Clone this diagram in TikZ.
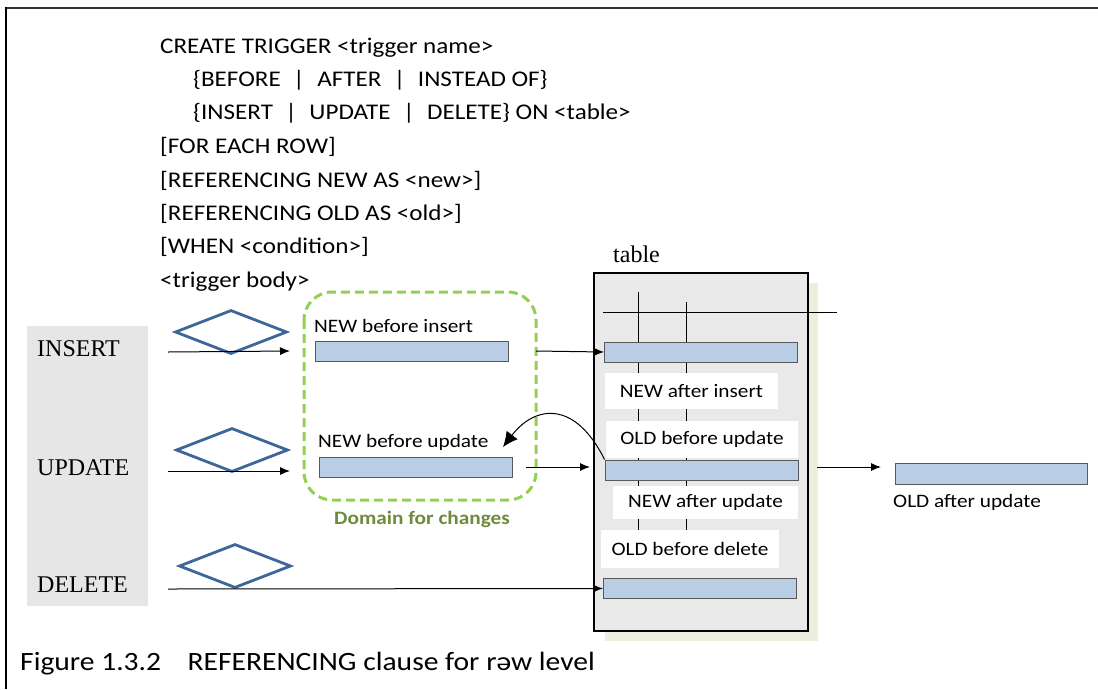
\documentclass[tikz,border=0pt]{standalone}
\usepackage{fontspec}
\setmainfont[FakeStretch=1.12]{Carlito}
\newfontfamily\timesf{Liberation Serif}
\usetikzlibrary{arrows.meta,shapes.geometric}
\newcommand\barsep{\hspace{12.5pt}|\hspace{12.5pt}}
\definecolor{barfill}{HTML}{B9CDE5}
\definecolor{diablue}{HTML}{3F6699}
\definecolor{dgreen}{HTML}{92D050}
\definecolor{dtext}{HTML}{6E8B3D}
\definecolor{panelgray}{HTML}{E6E6E6}
\definecolor{tablegray}{HTML}{E9E9E9}
\definecolor{shadowc}{HTML}{EEEEDF}
\tikzset{
  codeline/.style={anchor=base west,inner sep=0pt,font=\fontsize{22.4}{26}\selectfont},
  optlabel/.style={anchor=base west,inner sep=0pt,font=\timesf\fontsize{24}{28}\selectfont},
  sanslabel/.style={anchor=base west,inner sep=0pt,font=\fontsize{19}{23}\selectfont},
  bar/.style={draw=black!65,fill=barfill,line width=0.9pt,minimum width=193pt,minimum height=20pt,inner sep=0pt},
  diam/.style={diamond,draw=diablue,line width=2.8pt,aspect=2.5,minimum width=112pt,minimum height=44pt,inner sep=0pt},
  whitebox/.style={fill=white,inner sep=0pt,font=\fontsize{19}{23}\selectfont},
  arr/.style={-{Latex[length=10pt,width=8pt]},line width=1pt},
}
\begin{document}
\begin{tikzpicture}[x=1pt,y=-1pt]
\useasboundingbox (0,0) rectangle (1098,689);
\fill[white] (0,0) rectangle (1098,689);
% frame
\draw[line width=2.5pt,black!80] (5,8) -- (1098,8);
\draw[line width=2pt] (6,7) -- (6,689);
% code
\node[codeline] (c1) at (160,53) {CREATE TRIGGER <trigger name>};
\node[codeline] (c2) at (193,86) {\{BEFORE\barsep AFTER\barsep INSTEAD OF\}};
\node[codeline] (c3) at (193,119) {\{INSERT\barsep UPDATE\barsep DELETE\} ON <table>};
\node[codeline] (c4) at (160,153) {[FOR EACH ROW]};
\node[codeline] (c5) at (160,187) {[REFERENCING NEW AS <new>]};
\node[codeline] (c6) at (160,220) {[REFERENCING OLD AS <old>]};
\node[codeline] (c7) at (160,253) {[WHEN <condition>]};
\node[codeline] (c8) at (160,287) {<trigger body>};
% left panel
\fill[panelgray] (27,326) rectangle (148,606);
\node[optlabel] (ins) at (37,356) {INSERT};
\node[optlabel] (upd) at (37,475) {UPDATE};
\node[optlabel] (del) at (37,592) {DELETE};
% diamonds
\node[diam] (d1) at (231,332) {};
\node[diam] (d2) at (232,450) {};
\node[diam] (d3) at (235,566) {};
% domain box
\draw[dgreen,line width=3pt,dash pattern=on 9pt off 5pt,rounded corners=28pt] (304,292) rectangle (536,500);
\node[anchor=base,inner sep=0pt,font=\bfseries\fontsize{19}{22}\selectfont,text=dtext] (dom) at (422,524) {Domain for changes};
% NEW before bars
\node[sanslabel] (lnbi) at (314,332) {NEW before insert};
\node[bar] (bi) at (411.5,351) {};
\node[sanslabel] (lnbu) at (318,447) {NEW before update};
\node[bar] (bu) at (415.5,467) {};
% table
\fill[shadowc] (605,283) rectangle (818,641);
\draw[fill=tablegray,line width=1.6pt] (594,273) rectangle (808,631);
\node[anchor=base west,inner sep=0pt,font=\timesf\fontsize{24}{28}\selectfont] (tlab) at (613,262) {table};
\coordinate (hl) at (603,312);
\coordinate (hr) at (837,312);
\draw[line width=1pt] (hl) -- (hr);
\coordinate (v1t) at (638,292);
\coordinate (v1b) at (638,530);
\coordinate (v2t) at (686,302);
\coordinate (v2b) at (686,530);
\draw[line width=1pt] (v1t) -- (v1b);
\draw[line width=1pt] (v2t) -- (v2b);
\node[bar] (t1) at (701,352) {};
\node[whitebox,minimum width=173pt,minimum height=36pt] (wa) at (691.5,391) {NEW after insert};
\node[whitebox,minimum width=192pt,minimum height=37pt] (wb) at (702,439.5) {OLD before update};
\node[bar] (t2) at (701.5,470) {};
\node[whitebox,minimum width=185pt,minimum height=33pt] (wc) at (705.5,502.5) {NEW after update};
\node[whitebox,minimum width=178pt,minimum height=38pt] (wd) at (690,549) {OLD before delete};
\node[bar] (t3) at (700,588.5) {};
% old after update
\node[bar,minimum width=192pt,minimum height=21pt] (oa) at (991,473.5) {};
\node[sanslabel] (loa) at (893,507) {OLD after update};
% arrows
\coordinate (s1) at (168,352);
\coordinate (e1) at (290,351);
\draw[arr] (s1) -- (e1);
\coordinate (s2) at (168,471);
\coordinate (e2) at (290,471);
\draw[arr] (s2) -- (e2);
\coordinate (s3) at (168,589);
\draw[arr] (s3) -- (t3.west);
\coordinate (s4) at (536,351);
\draw[arr] (s4) -- (t1.west);
\coordinate (s5) at (526,467);
\coordinate (e5) at (590,467);
\draw[arr] (s5) -- (e5);
\coordinate (s6) at (817,467);
\coordinate (e6) at (881,467);
\draw[arr] (s6) -- (e6);
% curved arrow
\coordinate (ct) at (503,447);
\draw[line width=1pt,-{Latex[length=15pt,width=14pt]}] (t2.north west) .. controls (575,400) and (535,405) .. (ct);
% caption
\node[anchor=base west,inner sep=0pt,font=\fontsize{26.4}{30}\selectfont] (cap) at (20,670) {Figure 1.3.2\hspace{1.0em}REFERENCING clause for rəw level};
\end{tikzpicture}
\end{document}
